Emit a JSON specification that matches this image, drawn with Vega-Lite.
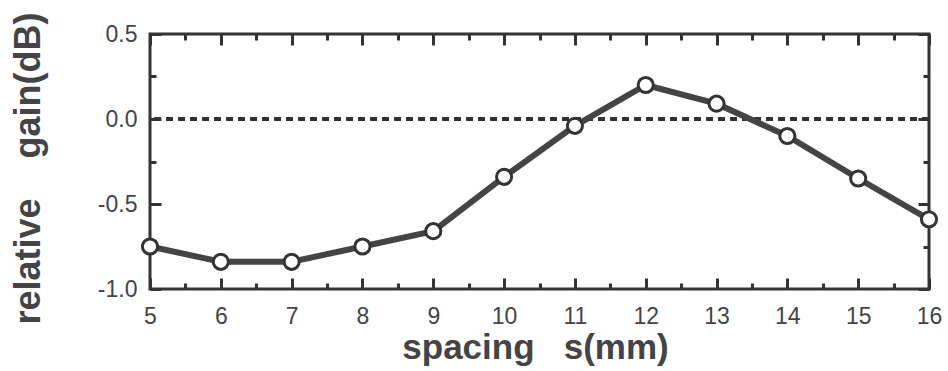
{
  "$schema": "https://vega.github.io/schema/vega-lite/v6.json",
  "width": 779,
  "height": 255,
  "autosize": {"type": "none"},
  "padding": {"left": 150, "top": 34, "right": 19, "bottom": 82},
  "background": "white",
  "config": {
    "view": {"stroke": "#333", "strokeWidth": 3},
    "axis": {
      "domain": false,
      "grid": false,
      "labelFont": "Liberation Sans",
      "labelFontSize": 23,
      "labelColor": "#444",
      "labelFlush": false,
      "labelOverlap": false,
      "labelBound": false,
      "tickColor": "#333",
      "tickWidth": 3,
      "titleFont": "Liberation Sans",
      "titleFontSize": 34,
      "titleFontWeight": "bold",
      "titleColor": "#444"
    }
  },
  "data": {
    "values": [
      {"s": 5, "gain": -0.75},
      {"s": 6, "gain": -0.84},
      {"s": 7, "gain": -0.84},
      {"s": 8, "gain": -0.75},
      {"s": 9, "gain": -0.66},
      {"s": 10, "gain": -0.34},
      {"s": 11, "gain": -0.04},
      {"s": 12, "gain": 0.2},
      {"s": 13, "gain": 0.09},
      {"s": 14, "gain": -0.1},
      {"s": 15, "gain": -0.35},
      {"s": 16, "gain": -0.59}
    ]
  },
  "layer": [
    {
      "mark": {"type": "rule", "strokeDash": [7, 5], "strokeWidth": 3, "color": "#333"},
      "encoding": {
        "y": {"datum": 0, "type": "quantitative", "scale": {"domain": [-1, 0.5], "nice": false, "zero": false}, "axis": null}
      }
    },
    {
      "mark": {"type": "line", "strokeWidth": 6, "color": "#444"},
      "encoding": {
        "x": {
          "field": "s", "type": "quantitative",
          "scale": {"domain": [5, 16], "nice": false, "zero": false},
          "axis": {
            "orient": "bottom",
            "values": [5, 5.5, 6, 6.5, 7, 7.5, 8, 8.5, 9, 9.5, 10, 10.5, 11, 11.5, 12, 12.5, 13, 13.5, 14, 14.5, 15, 15.5, 16],
            "tickSize": {"condition": {"test": "datum.value % 1 === 0", "value": -11}, "value": -6},
            "labelExpr": "datum.value % 1 === 0 ? format(datum.value, 'd') : ''",
            "labelPadding": 27,
            "title": "spacing\u00a0\u00a0\u00a0s(mm)",
            "titleFontSize": 35,
            "titleBaseline": "alphabetic",
            "titleX": 385,
            "titleY": 69
          }
        },
        "y": {
          "field": "gain", "type": "quantitative",
          "scale": {"domain": [-1, 0.5], "nice": false, "zero": false},
          "axis": {
            "orient": "left",
            "values": [-1, -0.75, -0.5, -0.25, 0, 0.25, 0.5],
            "tickSize": {"condition": {"test": "datum.value % 0.5 === 0", "value": -11}, "value": -6},
            "labelExpr": "datum.value % 0.5 === 0 ? (datum.value < 0 ? '-' + format(-datum.value, '.1f') : format(datum.value, '.1f')) : ''",
            "labelPadding": 24,
            "title": "relative\u00a0\u00a0\u00a0\u00a0gain(dB)",
            "titleFontSize": 36,
            "titleAngle": -90,
            "titleAlign": "center",
            "titleBaseline": "middle",
            "titleX": -122,
            "titleY": 134
          }
        }
      }
    },
    {
      "mark": {"type": "point", "shape": "circle", "filled": true, "fill": "white", "stroke": "#333", "strokeWidth": 3, "size": 230, "opacity": 1},
      "encoding": {
        "x": {
          "field": "s", "type": "quantitative",
          "scale": {"domain": [5, 16], "nice": false, "zero": false},
          "axis": {
            "orient": "top",
            "values": [5, 5.5, 6, 6.5, 7, 7.5, 8, 8.5, 9, 9.5, 10, 10.5, 11, 11.5, 12, 12.5, 13, 13.5, 14, 14.5, 15, 15.5, 16],
            "tickSize": {"condition": {"test": "datum.value % 1 === 0", "value": -11}, "value": -6},
            "labels": false,
            "title": null
          }
        },
        "y": {
          "field": "gain", "type": "quantitative",
          "scale": {"domain": [-1, 0.5], "nice": false, "zero": false},
          "axis": {
            "orient": "right",
            "values": [-1, -0.75, -0.5, -0.25, 0, 0.25, 0.5],
            "tickSize": {"condition": {"test": "datum.value % 0.5 === 0", "value": -11}, "value": -6},
            "labels": false,
            "title": null
          }
        }
      }
    }
  ],
  "resolve": {"axis": {"x": "independent", "y": "independent"}}
}
